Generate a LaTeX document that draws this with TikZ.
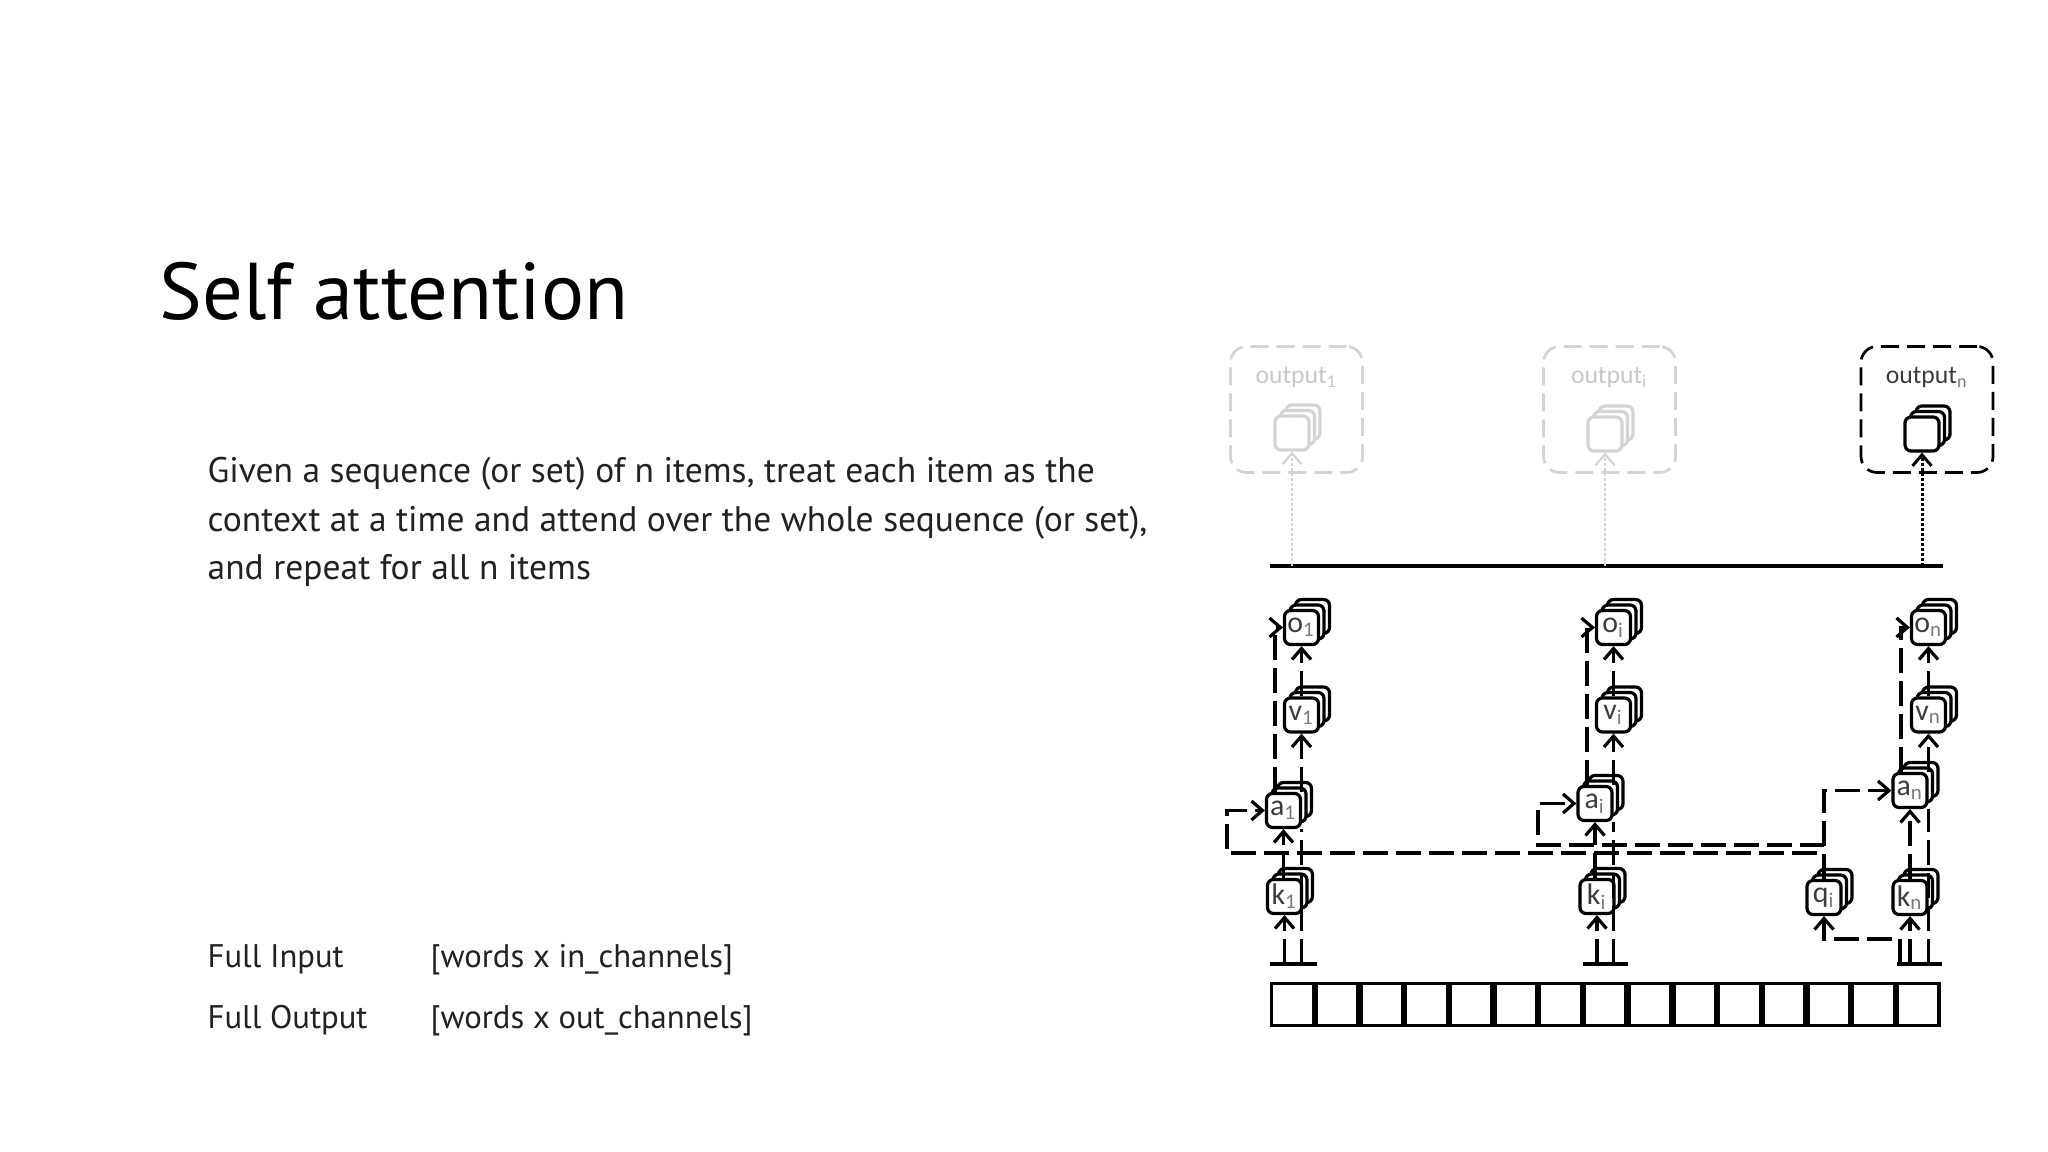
\documentclass[tikz,border=0pt]{standalone}
\usepackage{fontspec}
\setmainfont{PT Sans}
\newfontfamily\lblfont{Carlito}
\usetikzlibrary{arrows.meta,calc}
\definecolor{labc}{HTML}{3C3C3C}
\definecolor{subc}{HTML}{7A7A7A}
\definecolor{fade}{HTML}{D4D4D4}
\definecolor{fadetxt}{HTML}{C8C8C8}
\definecolor{bodyc}{HTML}{222222}
\newcommand\lab[2]{\textcolor{labc}{#1}\textsubscript{\textcolor{subc}{#2}}}
\newcommand\stackbox[5]{%
  \node[bx,#5] (#1-s2) at (#2+11,#3-11) {};
  \node[bx,#5] (#1-s1) at (#2+5.5,#3-5.5) {};
  \node[bx,#5] (#1) at (#2,#3) {#4};
}
\tikzset{
  bx/.style={draw, fill=white, line width=0.32mm, rounded corners=0.6mm,
    minimum size=3.4mm, inner sep=0pt, font=\lblfont\fontsize{8.5pt}{9pt}\selectfont},
  dl/.style={line width=0.32mm, dash pattern=on 2.5mm off 0.8mm},
  tipA/.style={-{Straight Barb[length=1.1mm,width=1.9mm]}},
  dotl/.style={line width=0.22mm, dash pattern=on 0.25mm off 0.25mm},
  obox/.style={draw, line width=0.27mm, rounded corners=1.6mm,
    dash pattern=on 1.8mm off 0.8mm, minimum width=13.2mm, minimum height=12.6mm, inner sep=0pt},
  olab/.style={anchor=base, font=\lblfont\fontsize{7.3pt}{8pt}\selectfont},
  cell/.style={draw, line width=0.32mm, minimum width=4.15mm, minimum height=4.2mm, inner sep=0pt},
  basel/.style={line width=0.32mm},
  ttl/.style={anchor=base west, inner sep=0pt, font=\fontsize{22.9pt}{28pt}\selectfont},
  bod/.style={anchor=base west, inner sep=0pt, text=bodyc, font=\fontsize{10.1pt}{12pt}\selectfont},
  io/.style={anchor=base west, inner sep=0pt, text=bodyc, font=\fontsize{9.3pt}{11pt}\selectfont},
}
\begin{document}
\begin{tikzpicture}[x=0.1mm,y=-0.1mm]
\fill[white] (0,0) rectangle (2048,1152);
\useasboundingbox (0,0) rectangle (2048,1152);

% ---- slide text ----
\node[ttl] (title) at (159,320) {Self attention};
\node[bod] (b1) at (207,483) {Given a sequence (or set) of n items, treat each item as the};
\node[bod] (b2) at (207,532) {context at a time and attend over the whole sequence (or set),};
\node[bod] (b3) at (207,580) {and repeat for all n items};
\node[io] (fin) at (207,968) {Full Input};
\node[io] (fins) at (430,968) {[words x in\_channels]};
\node[io] (fout) at (207,1029) {Full Output};
\node[io] (fouts) at (430,1029) {[words x out\_channels]};

% ---- output boxes ----
\node[obox, draw=fade] (ob1) at (1296.5,409.5) {};
\node[obox, draw=fade] (obi) at (1609.5,409.5) {};
\node[obox] (obn) at (1927,409.5) {};
\node[olab, text=fadetxt] (ol1) at (1296.5,384) {output\textsubscript{1}};
\node[olab, text=fadetxt] (oli) at (1609.5,384) {output\textsubscript{i}};
\node[olab, text=labc] (oln) at (1927,384) {output\textsubscript{\textcolor{subc}{n}}};
\stackbox{oc1}{1292}{433}{}{draw=fade}
\stackbox{oci}{1605}{434}{}{draw=fade}
\stackbox{ocn}{1922}{434}{}{}

\coordinate (barL) at (1270,566);
\coordinate (barR) at (1943,566);
\draw[line width=0.35mm] (barL) -- (barR);
\draw[dotl, fade, tipA] (oc1.south |- barL) -- (oc1.south);
\draw[dotl, fade, tipA] (oci.south |- barL) -- (oci.south);
\draw[dotl, line width=0.3mm, tipA] (ocn.south |- barL) -- (ocn.south);

% ---- attention nodes ----
\stackbox{o1}{1301.5}{627.5}{\lab{o}{1}}{}
\stackbox{v1}{1301.5}{715}{\lab{v}{1}}{}
\stackbox{a1}{1283.5}{810.5}{\lab{a}{1}}{}
\stackbox{k1}{1284.5}{896.5}{\lab{k}{1}}{}

\stackbox{oi}{1613.5}{627.5}{\lab{o}{i}}{}
\stackbox{vi}{1613.5}{715}{\lab{v}{i}}{}
\stackbox{ai}{1595}{803.5}{\lab{a}{i}}{}
\stackbox{ki}{1597}{896.5}{\lab{k}{i}}{}

\stackbox{qi}{1824}{897.5}{\lab{q}{i}}{}

\stackbox{on}{1928.5}{627.5}{\lab{o}{n}}{}
\stackbox{vn}{1928.5}{715}{\lab{v}{n}}{}
\stackbox{an}{1910}{790.5}{\lab{a}{n}}{}
\stackbox{kn}{1910}{897.5}{\lab{k}{n}}{}

% ---- input strip ----
\foreach \j in {1,...,15} {
  \node[cell] (c\j) at ({1270+44.7*(\j-0.5)},1004.5) {};
}
\coordinate (b1L) at (1270,964); \coordinate (b1R) at (1317,964);
\coordinate (biL) at (1583,964); \coordinate (biR) at (1628,964);
\coordinate (bnL) at (1897,964); \coordinate (bnR) at (1942,964);
\draw[basel] (b1L) -- (b1R);
\draw[basel] (biL) -- (biR);
\draw[basel] (bnL) -- (bnR);

% ---- connectors column 1 ----
\draw[dl,tipA] (a1.south |- k1.north) -- (a1.south);
\draw[dl,tipA] (v1.south |- a1.north) -- (v1.south);
\draw[dl,tipA] (v1.north) -- (o1.south);
\draw[dl,tipA] ([xshift=-0.85mm]a1.north) |- (o1.west);
\draw[dl,tipA] (k1.south |- b1L) -- (k1.south);
\draw[dl] (v1.south |- b1L) -- (v1.south |- a1.south);

% ---- connectors column i ----
\draw[dl,tipA] (ai.south |- ki.north) -- (ai.south);
\draw[dl,tipA] (vi.south |- ai.north) -- (vi.south);
\draw[dl,tipA] (vi.north) -- (oi.south);
\draw[dl,tipA] ([xshift=-0.8mm]ai.north) |- (oi.west);
\draw[dl,tipA] (ki.south |- biL) -- (ki.south);
\draw[dl] (vi.south |- biL) -- (vi.south |- ai.south);

% ---- connectors column n ----
\draw[dl,tipA] (an.south |- kn.north) -- (an.south);
\draw[dl,tipA] (vn.south |- an.north) -- (vn.south);
\draw[dl,tipA] (vn.north) -- (on.south);
\draw[dl,tipA] ([xshift=-0.9mm]an.north) |- (on.west);
\draw[dl,tipA] (kn.south |- bnL) -- (kn.south);
\draw[dl] (vn.south |- bnL) -- (vn.south |- an.south);

% ---- query ----
\coordinate (qin) at (1900,964);
\draw[dl,tipA] (qin) -- ++(0,-25) -| (qi.south);
\coordinate (qL1) at (1227,853);
\coordinate (qL2) at (1538,845);
\draw[dl,tipA] (qi.north) |- (qL1) |- (a1.west);
\draw[dl,tipA] (qi.north) |- (qL2) |- (ai.west);
\draw[dl,tipA] (qi.north) |- (an.west);
\end{tikzpicture}
\end{document}
